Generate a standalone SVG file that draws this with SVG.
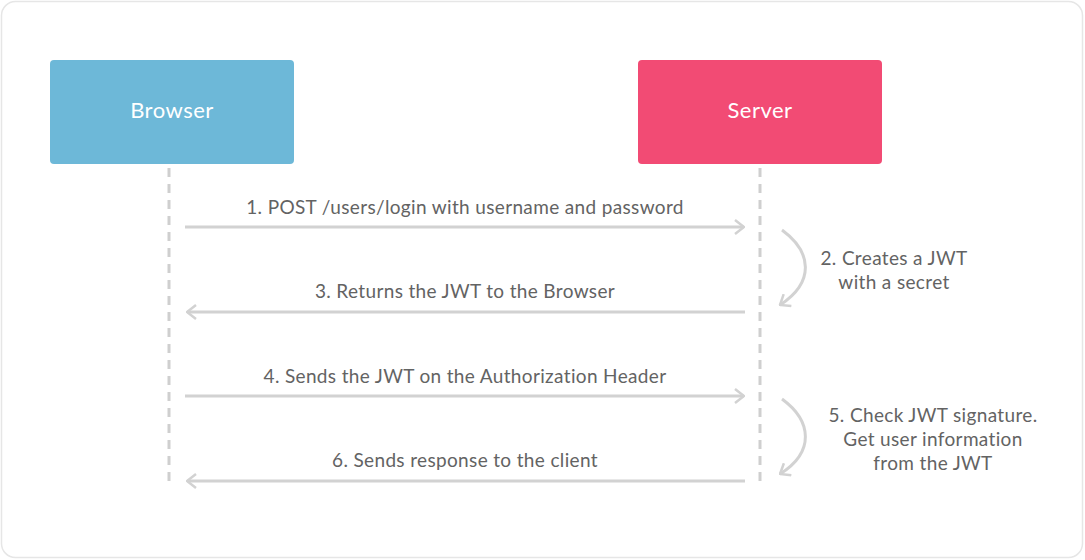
<svg xmlns="http://www.w3.org/2000/svg" width="1085" height="560" viewBox="0 0 1085 560">
<defs>
<style>
.node-label{font-family:Lato,"Open Sans","Liberation Sans",sans-serif;font-size:22px;letter-spacing:0.5px;fill:#ffffff;text-anchor:middle}
.label{font-family:Lato,"Open Sans","Liberation Sans",sans-serif;font-size:19px;letter-spacing:0.35px;fill:#636363;text-anchor:middle}
.msg{stroke:#d2d2d2;stroke-width:3;fill:none}
.life{stroke:#cfcfcf;stroke-width:3;stroke-dasharray:9 7;fill:none}
</style>
<marker id="head" viewBox="0 0 12 16" refX="11" refY="8" markerWidth="12" markerHeight="16" markerUnits="userSpaceOnUse" orient="auto">
<path d="M2,1 L11,8 L2,15" fill="none" stroke="#d2d2d2" stroke-width="2.5"/>
</marker>
</defs>
<rect x="0" y="0" width="1085" height="560" fill="#ffffff"/>
<rect x="1.5" y="1.5" width="1081" height="556" rx="14" fill="none" stroke="#e6e6e6" stroke-width="1.5"/>
<g id="browser">
<rect x="50" y="60" width="244" height="104" rx="4" fill="#6db8d8"/>
<text class="node-label" x="172" y="118">Browser</text>
</g>
<g id="server">
<rect x="638" y="60" width="244" height="104" rx="4" fill="#f24b74"/>
<text class="node-label" x="760" y="118">Server</text>
</g>
<g id="connectors">
<line class="life" x1="169" y1="168" x2="169" y2="486"/>
<line class="life" x1="760" y1="168" x2="760" y2="486"/>
<line class="msg" x1="185" y1="227" x2="744" y2="227" marker-end="url(#head)"/>
<line class="msg" x1="745" y1="312" x2="187" y2="312" marker-end="url(#head)"/>
<line class="msg" x1="185" y1="396" x2="744" y2="396" marker-end="url(#head)"/>
<line class="msg" x1="745" y1="481" x2="187" y2="481" marker-end="url(#head)"/>
<path class="msg" d="M782,230 C812,252 815,282 780,305" marker-end="url(#head)"/>
<path class="msg" d="M782,399 C812,421 815,452 780,474" marker-end="url(#head)"/>
</g>
<g id="labels">
<text class="label" x="465" y="214">1. POST /users/login with username and password</text>
<text class="label" x="465" y="298">3. Returns the JWT to the Browser</text>
<text class="label" x="465" y="383">4. Sends the JWT on the Authorization Header</text>
<text class="label" x="465" y="467">6. Sends response to the client</text>
<text class="label" x="894" y="265">2. Creates a JWT</text>
<text class="label" x="894" y="289">with a secret</text>
<text class="label" x="933" y="422">5. Check JWT signature.</text>
<text class="label" x="933" y="446">Get user information</text>
<text class="label" x="933" y="470">from the JWT</text>
</g>
</svg>
